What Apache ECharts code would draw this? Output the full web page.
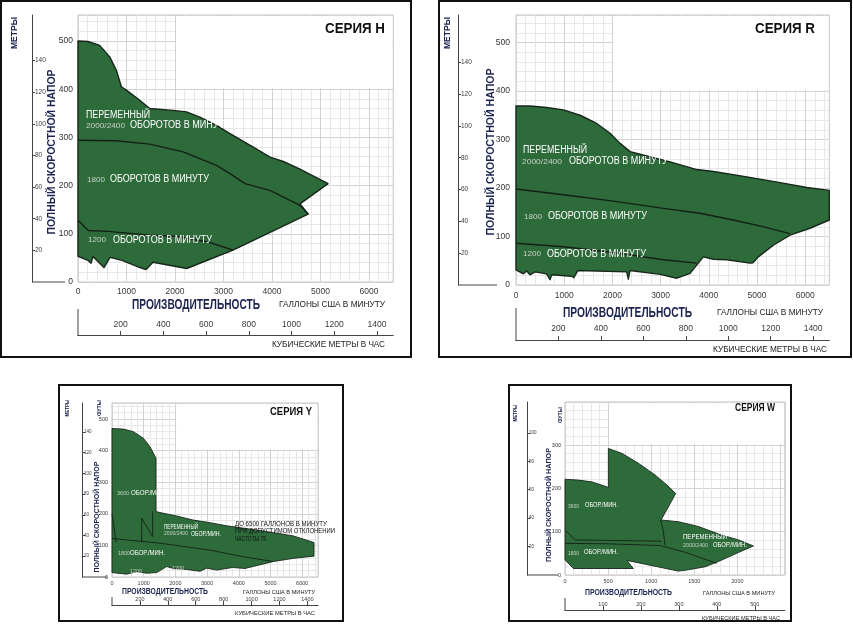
<!DOCTYPE html>
<html><head><meta charset="utf-8">
<script src="https://cdn.jsdelivr.net/npm/echarts@6/dist/echarts.min.js"></script>
<style>html,body{margin:0;padding:0;background:#fff}#c{width:853px;height:633px}</style>
</head><body><div id="c"></div>
<script>
// ---------- tick label values ----------
const galTicksMain = [0,1000,2000,3000,4000,5000,6000];
const galTicksW = [0,500,1000,1500,2000];
const ftTicksMain = [0,100,200,300,400,500];
const ftTicksW = [0,100,200,300];
const mTicksMain = [20,40,60,80,100,120,140];
const mTicksW = [20,40,60,80,100];
const m3TicksMain = [200,400,600,800,1000,1200,1400];
const m3TicksW = [100,200,300,400,500];

// ---------- series H (gallons/min, feet) ----------
const H_envelope = [[0,500],[206,499],[447,491],[654,467],[791,439],[895,405],[998,398],[1273,377],[1480,360],[1961,356],[2237,353],[2512,342],[2856,325],[3134,308],[3613,280],[3959,259],[4233,250],[4577,234],[5155,204],[4577,162],[4745,141],[3196,66],[2241,28],[1546,41],[1402,26],[1278,30],[907,45],[660,51],[536,30],[309,53],[268,39],[206,45],[0,53]];
const H_curve1800 = [[0,294],[791,293],[1480,286],[2168,270],[2856,242],[3134,225],[3443,204],[3959,190],[4577,159],[4745,141]];
const H_curve1200 = [[0,128],[213,107],[625,105],[1480,97],[2000,95],[2687,83],[3196,66]];

// ---------- series R ----------
const R_envelope = [[0,369],[291,369],[637,366],[983,361],[1329,350],[1675,333],[1952,313],[2159,292],[2367,275],[2713,266],[3197,254],[3751,238],[4097,234],[4789,223],[5481,211],[6035,201],[6500,195],[6500,134],[6100,117],[5685,103],[5339,82],[5028,58],[4917,46],[4855,45],[4371,52],[4094,53],[3886,58],[3749,41],[3612,24],[3336,14],[2990,22],[2365,30],[2330,12],[2296,27],[1286,30],[1200,15],[1155,18],[740,21],[705,11],[636,23],[394,27],[290,21],[221,29],[152,23],[0,31]];
const R_curve1800 = [[0,198],[983,186],[2021,173],[3059,158],[3817,148],[4509,134],[5100,121],[5685,106]];
const R_curve1200 = [[0,86],[983,79],[1675,71],[2367,62],[3059,52],[3749,45]];

// ---------- series Y ----------
const Y_envelope = [[0,470],[358,468],[673,460],[988,439],[1199,412],[1388,376],[1388,207],[1514,204],[2040,193],[2566,180],[3091,172],[3617,162],[4669,147],[5720,130],[6372,109],[6372,66],[5720,59],[5089,49],[4196,27],[3800,30],[3302,22],[2986,28],[2776,18],[2355,24],[1935,27],[1724,33],[1409,14],[1094,12],[778,17],[463,9],[0,14]];
const Y_curve3600a = [[1283,207],[1283,128]];
const Y_curve3600b = [[936,186],[1283,128]];
const Y_curve3600c = [[936,186],[936,112]];
const Y_curve3600d = [[0,200],[40,175],[130,110]];
const Y_curve1800 = [[0,122],[1514,107],[3091,85],[4143,64],[5089,49]];

// ---------- series W ----------
const W_envelope = [[0,221],[155,219],[309,215],[464,205],[503,202],[503,292],[658,281],[851,258],[1044,231],[1180,208],[1284,188],[1115,127],[1315,123],[1547,112],[1818,92],[2012,81],[2186,67],[2012,52],[1779,31],[1625,19],[1431,12],[1315,9],[760,32],[720,33],[793,15],[97,15],[0,35]];
const W_curve3600a = [[1110,127],[1140,102],[1160,69]];
const W_curve3600b = [[0,104],[116,81],[1120,78]];
const W_curve1800 = [[0,73],[500,72],[1102,68],[1400,52],[1644,35],[1760,27]];

const GAL2M3 = 0.227125, FT2M = 0.3048;
const GREEN = '#2e6b3b', EDGE = '#17261a', LINE = '#142016';
const FAM = '"Liberation Sans", Arial, sans-serif';

const PANELS = [
  {env:H_envelope, lines:[H_curve1800,H_curve1200], grid:{left:78,top:15,width:315.25,height:267}, galMax:6500, galInt:1000, pxPerFt:0.482,
   galTicks:galTicksMain, ftTicks:ftTicksMain, mTicks:mTicksMain, m3Ticks:m3TicksMain, m3Int:200, mOffset:46, m3Offset:53,
   white:[2000,400], fs:8.5, mfs:6.5, mMargin:3, galMargin:5, ftMargin:5, m3Margin:6, lw:1.4},
  {env:R_envelope, lines:[R_curve1800,R_curve1200], grid:{left:516,top:15,width:313.3,height:270}, galMax:6500, galInt:1000, pxPerFt:0.485,
   galTicks:galTicksMain, ftTicks:ftTicksMain, mTicks:mTicksMain, m3Ticks:m3TicksMain, m3Int:200, mOffset:58, m3Offset:55,
   white:[2000,400], fs:8.5, mfs:6.5, mMargin:3, galMargin:6, ftMargin:6, m3Margin:7, lw:1.4},
  {env:Y_envelope, lines:[Y_curve3600a,Y_curve3600b,Y_curve3600c,Y_curve3600d,Y_curve1800], grid:{left:112,top:403,width:206.05,height:174}, galMax:6500, galInt:1000, pxPerFt:0.316,
   galTicks:galTicksMain, ftTicks:ftTicksMain, mTicks:mTicksMain, m3Ticks:m3TicksMain, m3Int:200, mOffset:30, m3Offset:28,
   white:[2000,400], fs:5.5, mfs:4.5, mMargin:2, galMargin:3, ftMargin:4, m3Margin:3, lw:0.9},
  {env:W_envelope, lines:[W_curve3600a,W_curve3600b,W_curve1800], grid:{left:565,top:402,width:219.8,height:173}, galMax:2550, galInt:500, pxPerFt:0.4333,
   galTicks:galTicksW, ftTicks:ftTicksW, mTicks:mTicksW, m3Ticks:m3TicksW, m3Int:100, mOffset:38, m3Offset:35,
   white:[500,300], fs:5.5, mfs:4.5, mMargin:2, galMargin:3, ftMargin:4, m3Margin:3, lw:0.9}
];

const option = {animation:false, backgroundColor:'#fff', grid:[], xAxis:[], yAxis:[], series:[], graphic:[]};
const fmt = v => String(v);
const MAJOR = '#d2d2d2', MINOR = '#e7e7e7';

PANELS.forEach((p, i) => {
  const ftMax = p.grid.height / p.pxPerFt;
  p.ftMax = ftMax;
  option.grid.push(Object.assign({show:true, borderColor:'#c4c4c4', borderWidth:1, backgroundColor:'transparent', containLabel:false, outerBoundsMode:'none'}, p.grid));
  const lab = {fontSize:p.fs, color:'#3a3a3a', fontFamily:FAM, formatter:fmt};
  option.xAxis.push({type:'value', gridIndex:i, min:0, max:p.galMax, interval:p.galInt, position:'bottom',
    axisLine:{show:false, onZero:false}, axisTick:{show:false},
    axisLabel:Object.assign({customValues:p.galTicks, margin:p.galMargin}, lab),
    splitLine:{show:true, lineStyle:{color:MAJOR, width:1}},
    minorTick:{show:false, splitNumber:5}, minorSplitLine:{show:true, lineStyle:{color:MINOR, width:1}}});
  option.xAxis.push({type:'value', gridIndex:i, min:0, max:p.galMax*GAL2M3, interval:p.m3Int, position:'bottom', offset:p.m3Offset,
    axisLine:{show:true, onZero:false, lineStyle:{color:'#444', width:1}},
    axisTick:{show:true, inside:true, length:4, customValues:p.m3Ticks, lineStyle:{color:'#444'}},
    axisLabel:Object.assign({inside:true, customValues:p.m3Ticks, margin:p.m3Margin}, lab),
    splitLine:{show:false}});
  option.yAxis.push({type:'value', gridIndex:i, min:0, max:ftMax, interval:100, position:'left',
    axisLine:{show:false, onZero:false}, axisTick:{show:false},
    axisLabel:Object.assign({customValues:p.ftTicks, margin:p.ftMargin}, lab, {color:'#333'}),
    splitLine:{show:true, lineStyle:{color:MAJOR, width:1}},
    minorTick:{show:false, splitNumber:5}, minorSplitLine:{show:true, lineStyle:{color:MINOR, width:1}}});
  option.yAxis.push({type:'value', gridIndex:i, min:0, max:ftMax*FT2M, interval:20, position:'left', offset:p.mOffset,
    axisLine:{show:true, onZero:false, lineStyle:{color:'#444', width:1}},
    axisTick:{show:true, inside:true, length:3, customValues:p.mTicks, lineStyle:{color:'#444'}},
    axisLabel:Object.assign({inside:true, customValues:p.mTicks, margin:p.mMargin}, lab, {fontSize:p.mfs}),
    splitLine:{show:false}});
  const xi = 2*i, yi = 2*i;
  option.series.push({type:'custom', coordinateSystem:'cartesian2d', xAxisIndex:xi, yAxisIndex:yi, silent:true, clip:false, z:1,
    data:[[p.white[0], p.white[1]]],
    renderItem:(params, api) => {
      const a = api.coord([p.white[0], ftMax]);
      const b = api.coord([p.galMax, p.white[1]]);
      return {type:'rect', shape:{x:a[0]+1, y:a[1]+1, width:b[0]-a[0]-2, height:b[1]-a[1]-2}, style:{fill:'#ffffff'}};
    }});
  option.series.push({type:'custom', coordinateSystem:'cartesian2d', xAxisIndex:xi, yAxisIndex:yi, silent:true, clip:false, z:3,
    data:p.env,
    renderItem:(params, api) => {
      if (params.dataIndex !== 0) return;
      const pts = p.env.map(q => api.coord(q));
      return {type:'polygon', shape:{points:pts}, style:{fill:GREEN, stroke:EDGE, lineWidth:p.lw, lineJoin:'round'}};
    }});
  p.lines.forEach(L => {
    option.series.push({type:'line', xAxisIndex:xi, yAxisIndex:yi, data:L, symbol:'none', silent:true, z:4,
      lineStyle:{color:LINE, width:p.lw}});
  });
});

// ---------- texts ----------
const ctx = document.createElement('canvas').getContext('2d');
function T(x, y, s, size, o) {
  o = o || {};
  const weight = o.bold ? 'bold' : 'normal';
  ctx.font = weight + ' ' + size + 'px ' + FAM;
  const nat = ctx.measureText(s).width || 1;
  const sx = o.w ? o.w / nat : 1;
  return {type:'text', x:x, y:y, rotation:o.rot ? Math.PI/2 : 0, scaleX:sx, silent:true, z:100,
    style:{text:s, fill:o.color || '#111', fontSize:size, fontWeight:weight, fontFamily:FAM,
      align:o.rot ? 'center' : 'left', verticalAlign:'middle'}};
}
const NAVY = '#1b2350', GREY = '#c9d1c9', W = '#ffffff';
const G = option.graphic;
[[1,1,410,356],[439,1,412,356],[59,385,284,236],[509,385,282,236]].forEach(r => {
  G.push({type:'rect', silent:true, z:50, shape:{x:r[0], y:r[1], width:r[2], height:r[3]}, style:{fill:'none', stroke:'#111', lineWidth:2}});
});
[[32,282,65,282],[458,285,497,285],[82,577,107,577],[527,575,558,575],
 [78,309,78,336],[516,308,516,341],[112,597,112,606],[565,598,565,611]].forEach(l => {
  G.push({type:'line', silent:true, z:50, shape:{x1:l[0], y1:l[1], x2:l[2], y2:l[3]}, style:{stroke:'#444', lineWidth:1}});
});
// panel H
G.push(T(325,29,'СЕРИЯ H',15,{bold:true,w:60}));
G.push(T(15,33,'МЕТРЫ',9,{bold:true,rot:true,w:32,color:NAVY}));
G.push(T(51.5,152,'ПОЛНЫЙ СКОРОСТНОЙ НАПОР',11.5,{bold:true,rot:true,w:165,color:NAVY}));
G.push(T(132,305,'ПРОИЗВОДИТЕЛЬНОСТЬ',14,{bold:true,w:128,color:NAVY}));
G.push(T(279,305,'ГАЛЛОНЫ США В МИНУТУ',9,{w:106,color:'#222'}));
G.push(T(272,345,'КУБИЧЕСКИЕ МЕТРЫ В ЧАС',9,{w:113,color:'#222'}));
G.push(T(86,115,'ПЕРЕМЕННЫЙ',10,{w:64,color:W}));
G.push(T(86,126,'2000/2400',8,{w:39,color:GREY}));
G.push(T(130,125,'ОБОРОТОВ В МИНУТУ',10,{w:100,color:W}));
G.push(T(87,180,'1800',8,{w:18,color:GREY}));
G.push(T(110,179,'ОБОРОТОВ В МИНУТУ',10,{w:99,color:W}));
G.push(T(88,240,'1200',8,{w:18,color:GREY}));
G.push(T(113,240,'ОБОРОТОВ В МИНУТУ',10,{w:99,color:W}));
// panel R
G.push(T(755,29,'СЕРИЯ R',15,{bold:true,w:60}));
G.push(T(448,33,'МЕТРЫ',9,{bold:true,rot:true,w:32,color:NAVY}));
G.push(T(490.5,152,'ПОЛНЫЙ СКОРОСТНОЙ НАПОР',11.5,{bold:true,rot:true,w:167,color:NAVY}));
G.push(T(563,313,'ПРОИЗВОДИТЕЛЬНОСТЬ',14,{bold:true,w:129,color:NAVY}));
G.push(T(717,313,'ГАЛЛОНЫ США В МИНУТУ',9,{w:106,color:'#222'}));
G.push(T(713,350,'КУБИЧЕСКИЕ МЕТРЫ В ЧАС',9,{w:114,color:'#222'}));
G.push(T(523,150,'ПЕРЕМЕННЫЙ',10,{w:64,color:W}));
G.push(T(522,162,'2000/2400',8,{w:40,color:GREY}));
G.push(T(569,161,'ОБОРОТОВ В МИНУТУ',10,{w:99,color:W}));
G.push(T(524,217,'1800',8,{w:18,color:GREY}));
G.push(T(548,216,'ОБОРОТОВ В МИНУТУ',10,{w:99,color:W}));
G.push(T(523,254,'1200',8,{w:18,color:GREY}));
G.push(T(547,254,'ОБОРОТОВ В МИНУТУ',10,{w:99,color:W}));
// panel Y
G.push(T(270,412,'СЕРИЯ Y',10,{bold:true,w:42}));
G.push(T(67,408,'МЕТРЫ',6,{bold:true,rot:true,w:17,color:NAVY}));
G.push(T(99,408,'ФУТЫ',6,{bold:true,rot:true,w:16,color:NAVY}));
G.push(T(97,517,'ПОЛНЫЙ СКОРОСТНОЙ НАПОР',7.5,{bold:true,rot:true,w:111,color:NAVY}));
G.push(T(122,592,'ПРОИЗВОДИТЕЛЬНОСТЬ',9,{bold:true,w:86,color:NAVY}));
G.push(T(243,592,'ГАЛЛОНЫ США В МИНУТУ',6,{w:72,color:'#222'}));
G.push(T(235,613,'КУБИЧЕСКИЕ МЕТРЫ В ЧАС',6,{w:80,color:'#222'}));
G.push(T(117,493,'3600',5.5,{w:12,color:GREY}));
G.push(T(131,493,'ОБОР./МИН.',6.5,{w:36,color:W}));
G.push(T(164,527,'ПЕРЕМЕННЫЙ',6.5,{w:34,color:W}));
G.push(T(164,534,'2000/2400',5,{w:24,color:GREY}));
G.push(T(191,534,'ОБОР./МИН.',6.5,{w:30,color:W}));
G.push(T(118,553,'1800',5.5,{w:12,color:GREY}));
G.push(T(130,553,'ОБОР./МИН.',6.5,{w:35,color:W}));
G.push(T(130,571,'1200',5.5,{w:12,color:GREY}));
G.push(T(172,568,'1200',5.5,{w:12,color:GREY}));
G.push(T(235,524,'ДО 6500 ГАЛЛОНОВ В МИНУТУ',6.5,{w:92,color:'#111'}));
G.push(T(235,531.5,'ПРИ ДОПУСТИМОМ ОТКЛОНЕНИИ',6.5,{w:100,color:'#111'}));
G.push(T(235,539,'ЧАСТОТЫ 75',6.5,{w:31,color:'#111'}));
// panel W
G.push(T(735,408,'СЕРИЯ W',10,{bold:true,w:40}));
G.push(T(515,413,'МЕТРЫ',6,{bold:true,rot:true,w:17,color:NAVY}));
G.push(T(560,415,'ФУТЫ',6,{bold:true,rot:true,w:16,color:NAVY}));
G.push(T(548.5,505,'ПОЛНЫЙ СКОРОСТНОЙ НАПОР',7.5,{bold:true,rot:true,w:114,color:NAVY}));
G.push(T(585,593,'ПРОИЗВОДИТЕЛЬНОСТЬ',9,{bold:true,w:87,color:NAVY}));
G.push(T(703,593,'ГАЛЛОНЫ США В МИНУТУ',6,{w:72,color:'#222'}));
G.push(T(702,618,'КУБИЧЕСКИЕ МЕТРЫ В ЧАС',6,{w:78,color:'#222'}));
G.push(T(568,506,'3600',5.5,{w:11,color:GREY}));
G.push(T(585,505,'ОБОР./МИН.',6.5,{w:33,color:W}));
G.push(T(683,537,'ПЕРЕМЕННЫЙ',6.5,{w:44,color:W}));
G.push(T(683,546,'2000/2400',5,{w:25,color:GREY}));
G.push(T(713,545,'ОБОР./МИН.',6.5,{w:34,color:W}));
G.push(T(568,553,'1800',5.5,{w:11,color:GREY}));
G.push(T(584,552,'ОБОР./МИН.',6.5,{w:34,color:W}));

const chart = echarts.init(document.getElementById('c'), null, {renderer:'canvas'});
chart.setOption(option);
</script></body></html>
